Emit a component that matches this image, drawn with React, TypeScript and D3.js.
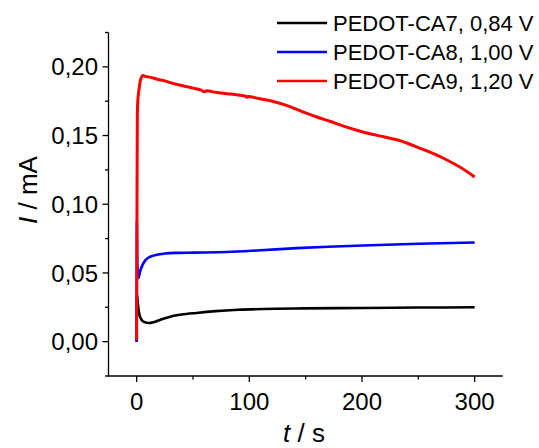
import React from "react";
import * as d3 from "d3";

const W = 539;
const H = 448;

const xTicks = [0, 100, 200, 300];
const xMinor = [50, 150, 250];
const yTicks = [0, 0.05, 0.1, 0.15, 0.2];
const yMinor = [-0.025, 0.025, 0.075, 0.125, 0.175, 0.225];

const seriesNames = ["PEDOT-CA7, 0,84 V", "PEDOT-CA8, 1,00 V", "PEDOT-CA9, 1,20 V"];
const seriesColors = ["#000000", "#0000ff", "#ff0000"];

const tBlack = [0, 0.2, 1, 3, 6, 10, 15, 21, 30, 40, 53, 70, 90, 112, 150, 201, 250, 300];
const iBlack = [0.0, 0.035, 0.028, 0.018, 0.0145, 0.0136, 0.0142, 0.016, 0.0182, 0.0197, 0.0209, 0.0222, 0.0232, 0.0238, 0.0242, 0.0245, 0.0248, 0.025];

const tBlue = [0, 0.2, 0.5, 1.5, 3, 5, 8, 12, 18, 25, 35, 50, 80, 110, 142, 170, 201, 250, 300];
const iBlue = [0.0, 0.0875, 0.06, 0.0463, 0.051, 0.0555, 0.0595, 0.0618, 0.0633, 0.0641, 0.0646, 0.0648, 0.0652, 0.0665, 0.0681, 0.0691, 0.07, 0.0712, 0.0722];

const tRed = [0, 0.3, 0.6, 1, 2, 3, 4, 5.5, 8, 12, 18, 24, 32, 41, 50, 58, 60, 62, 70, 80, 90, 97, 98, 99, 108, 118, 127, 136, 150, 160, 172, 185, 197, 207, 220, 231, 241, 251, 263, 275, 288, 300];
const iRed = [0.001, 0.1, 0.165, 0.175, 0.183, 0.189, 0.192, 0.1937, 0.193, 0.1925, 0.191, 0.19, 0.188, 0.1862, 0.1845, 0.1828, 0.1818, 0.1826, 0.1815, 0.1805, 0.1795, 0.1786, 0.1778, 0.1784, 0.177, 0.1755, 0.1735, 0.1711, 0.1665, 0.1635, 0.1602, 0.1565, 0.1535, 0.1513, 0.149, 0.1469, 0.1442, 0.1409, 0.137, 0.1324, 0.1265, 0.1198];

const seriesT = [tBlack, tBlue, tRed];
const seriesI = [iBlack, iBlue, iRed];
const seriesWidth = [2.6, 2.6, 3];

export default function App() {
  const x = d3.scaleLinear().domain([-25, 325]).range([108.5, 502.8]);
  const y = d3.scaleLinear().domain([-0.025, 0.225]).range([376, 32.5]);
  const line = d3
    .line<[number, number]>()
    .x((d) => x(d[0]))
    .y((d) => y(d[1]))
    .curve(d3.curveMonotoneX);
  const font = "Arial, 'Liberation Sans', sans-serif";
  const fmtY = (v: number) => v.toFixed(2).replace(".", ",");

  return (
    <svg
      width={W}
      height={H}
      style={{ position: "absolute", left: 0, top: 0, display: "block", background: "#fff" }}
      fontFamily={font}
    >
      <rect width={W} height={H} fill="#fff" />
      {seriesT.map((ts, k) => {
        const pts: [number, number][] = ts.map((t, i) => [t, seriesI[k][i]]);
        return (
          <path
            key={k}
            d={line(pts) || ""}
            fill="none"
            stroke={seriesColors[k]}
            strokeWidth={seriesWidth[k]}
            strokeLinejoin="round"
          />
        );
      })}
      <line x1={x(-25)} x2={x(-25)} y1={y(0.225)} y2={y(-0.025)} stroke="#000" strokeWidth={1.3} />
      <line x1={x(-25) - 0.6} x2={x(325)} y1={y(-0.025)} y2={y(-0.025)} stroke="#000" strokeWidth={1.3} />
      {yTicks.map((v) => (
        <g key={"y" + v}>
          <line x1={x(-25) - 6} x2={x(-25)} y1={y(v)} y2={y(v)} stroke="#000" strokeWidth={1.3} />
          <text x={98} y={y(v)} dy="0.36em" textAnchor="end" fontSize={24} fill="#000">
            {fmtY(v)}
          </text>
        </g>
      ))}
      {yMinor.map((v) => (
        <line key={"ym" + v} x1={x(-25) - 3.5} x2={x(-25)} y1={y(v)} y2={y(v)} stroke="#000" strokeWidth={1.3} />
      ))}
      {xTicks.map((v) => (
        <g key={"x" + v}>
          <line x1={x(v)} x2={x(v)} y1={y(-0.025)} y2={y(-0.025) + 6} stroke="#000" strokeWidth={1.3} />
          <text x={x(v)} y={410} textAnchor="middle" fontSize={24} fill="#000">
            {v}
          </text>
        </g>
      ))}
      {xMinor.map((v) => (
        <line key={"xm" + v} x1={x(v)} x2={x(v)} y1={y(-0.025)} y2={y(-0.025) + 3.5} stroke="#000" strokeWidth={1.3} />
      ))}
      <text x={304} y={442} textAnchor="middle" fontSize={26} fill="#000">
        <tspan fontStyle="italic">t</tspan>
        <tspan> / s</tspan>
      </text>
      <text transform={`translate(37,190) rotate(-90)`} textAnchor="middle" fontSize={26} fill="#000">
        <tspan fontStyle="italic">I</tspan>
        <tspan> / mA</tspan>
      </text>
      {seriesNames.map((name, k) => (
        <g key={name}>
          <line x1={277} x2={327} y1={23 + k * 29} y2={23 + k * 29} stroke={seriesColors[k]} strokeWidth={2.5} />
          <text x={333} y={23 + k * 29} dy="0.36em" fontSize={22} fill="#000">
            {name}
          </text>
        </g>
      ))}
    </svg>
  );
}
